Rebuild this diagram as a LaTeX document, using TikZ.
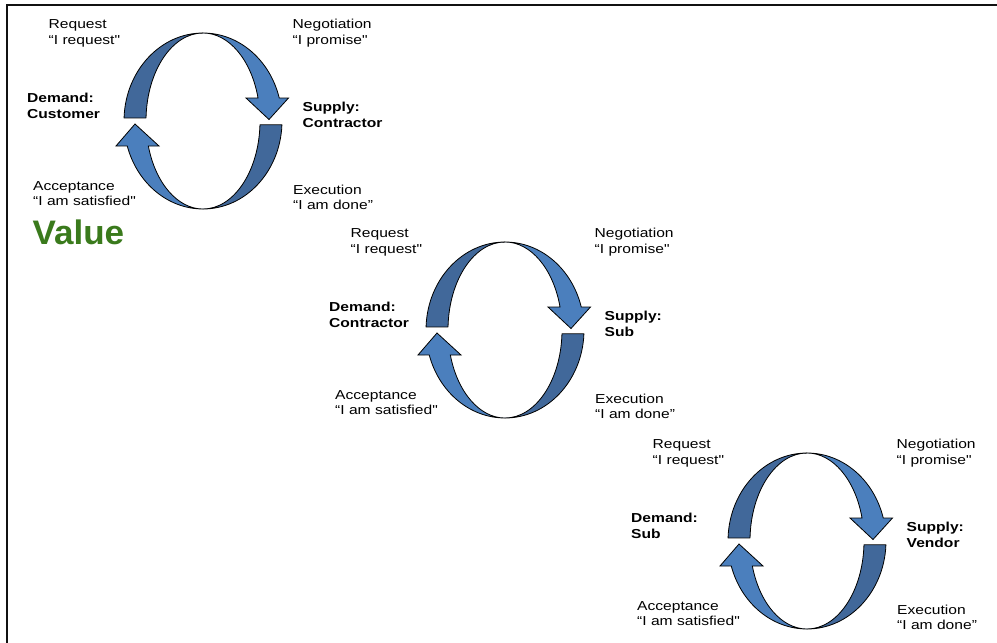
\documentclass[tikz,border=0pt]{standalone}
\usepackage{fontspec}
\newfontfamily\lblfamily[FakeStretch=1.2, Ligatures=ResetAll]{Liberation Sans}
\newfontfamily\valuefamily[FakeStretch=1.03, Ligatures=ResetAll]{Liberation Sans}
\newcommand\lblfont{\lblfamily\fontsize{13}{15.8}\selectfont}
\newcommand\twoline[2]{\begin{tabular}[t]{@{}l@{}}#1\\#2\end{tabular}}

\definecolor{cycdark}{RGB}{65,104,154}
\definecolor{cyclight}{RGB}{75,127,189}
\definecolor{valuegreen}{RGB}{58,122,28}
\definecolor{framegray}{RGB}{17,17,17}

\tikzset{
  lbl/.style={inner sep=0pt, anchor=base west, font=\lblfont},
  strong/.style={lbl, font=\lblfont\bfseries},
  bandshape/.style={fill=cycdark, draw=black, line width=0.8pt, line join=round},
  arrowshape/.style={fill=cyclight, draw=black, line width=0.8pt, line join=miter},
}

% One request/promise/execute/accept loop; #1 name prefix, #2,#3 offset,
% #4 demand side, #5 supply side
\newcommand\servicecycle[5]{%
  \begin{scope}[shift={(#2,#3)}]
    \coordinate (#1c) at (203,121);
    % upper left band (demand side)
    \path[bandshape] (203,33)
      arc[start angle=270, end angle=182, x radius=79, y radius=88]
      -- (146.03,117.93)
      arc[start angle=182, end angle=270, x radius=57, y radius=88] -- cycle;
    % lower right band (supply side)
    \path[bandshape] (203,209)
      arc[start angle=90, end angle=2.5, x radius=79, y radius=88]
      -- (259.95,124.84)
      arc[start angle=2.5, end angle=90, x radius=57, y radius=88] -- cycle;
    % upper right arrow pointing down
    \path[arrowshape] (203,33)
      arc[start angle=270, end angle=344.85, x radius=79, y radius=88]
      -- (288.5,98) -- (269,119.5) -- (246,98) -- (258.03,98)
      arc[start angle=344.85, end angle=270, x radius=57, y radius=88] -- cycle;
    % lower left arrow pointing up
    \path[arrowshape] (203,209)
      arc[start angle=90, end angle=163.5, x radius=79, y radius=88]
      -- (116,146) -- (135,124) -- (159,146) -- (148.35,146)
      arc[start angle=163.5, end angle=90, x radius=57, y radius=88] -- cycle;
    % phase labels
    \node[lbl] (#1req) at (48.5,28.5) {\twoline{Request}{“I request"}};
    \node[lbl] (#1neg) at (292.5,28.5) {\twoline{Negotiation}{“I promise"}};
    \node[strong] (#1dem) at (27,102.5) {\twoline{Demand:}{#4}};
    \node[strong] (#1sup) at (302.5,111.5) {\twoline{Supply:}{#5}};
    \node[lbl] (#1acc) at (33,190) {\twoline{Acceptance}{“I am satisfied"}};
    \node[lbl] (#1exe) at (293,194) {\twoline{Execution}{“I am done”}};
  \end{scope}}

\begin{document}
\begin{tikzpicture}[x=1pt, y=-1pt]
  \useasboundingbox (0,0) rectangle (997,643);
  \fill[white] (0,0) rectangle (997,643);
  % frame
  \draw[framegray, line width=2pt] (7.3,643) -- (7.3,5.3) -- (997,5.3);

  \servicecycle{a}{0}{0}{Customer}{Contractor}
  \servicecycle{b}{302}{209}{Contractor}{Sub}
  \servicecycle{c}{604}{420}{Sub}{Vendor}

  \node[inner sep=0pt, anchor=base west, text=valuegreen,
        font=\valuefamily\fontsize{34}{40}\selectfont\bfseries]
        (value) at (32.5,244) {Value};
\end{tikzpicture}
\end{document}
